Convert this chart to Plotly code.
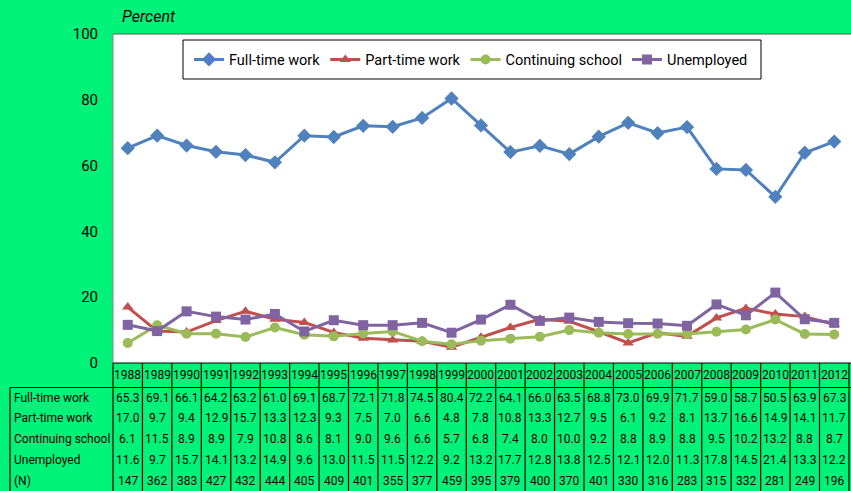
import plotly.graph_objects as go

# Survey outcomes by year (percent), with sample size
years = list(range(1988, 2013))
full_time = [65.3, 69.1, 66.1, 64.2, 63.2, 61.0, 69.1, 68.7, 72.1, 71.8, 74.5, 80.4, 72.2,
             64.1, 66.0, 63.5, 68.8, 73.0, 69.9, 71.7, 59.0, 58.7, 50.5, 63.9, 67.3]
part_time = [17.0, 9.7, 9.4, 12.9, 15.7, 13.3, 12.3, 9.3, 7.5, 7.0, 6.6, 4.8, 7.8,
             10.8, 13.3, 12.7, 9.5, 6.1, 9.2, 8.1, 13.7, 16.6, 14.9, 14.1, 11.7]
school = [6.1, 11.5, 8.9, 8.9, 7.9, 10.8, 8.6, 8.1, 9.0, 9.6, 6.6, 5.7, 6.8,
          7.4, 8.0, 10.0, 9.2, 8.8, 8.9, 8.8, 9.5, 10.2, 13.2, 8.8, 8.7]
unemployed = [11.6, 9.7, 15.7, 14.1, 13.2, 14.9, 9.6, 13.0, 11.5, 11.5, 12.2, 9.2, 13.2,
              17.7, 12.8, 13.8, 12.5, 12.1, 12.0, 11.3, 17.8, 14.5, 21.4, 13.3, 12.2]
sample_n = [147, 362, 383, 427, 432, 444, 405, 409, 401, 355, 377, 459, 395,
            379, 400, 370, 401, 330, 316, 283, 315, 332, 281, 249, 196]

series_names = ["Full-time work", "Part-time work", "Continuing school", "Unemployed"]
series_values = [full_time, part_time, school, unemployed]
series_colors = ["#4F81BD", "#C0504D", "#9BBB59", "#8064A2"]
series_symbols = ["diamond", "triangle-up", "circle", "square"]
y_ticks = [0, 20, 40, 60, 80, 100]

W, H = 851, 491
ML, MT, MB = 113, 34, 128
plot_h = H - MT - MB
FONT = "Roboto, Carlito, Calibri, sans-serif"
BG = "#00F279"


def py(pixel_y):
    """Convert a page pixel row into paper y."""
    return (H - MB - pixel_y) / plot_h


fig = go.Figure()
for name, vals, col, sym in zip(series_names, series_values, series_colors, series_symbols):
    fig.add_trace(go.Scatter(
        x=years, y=vals, name=name, mode="lines+markers",
        line=dict(color=col, width=3),
        marker=dict(symbol=sym, size=10 if sym != "diamond" else 11, color=col),
        cliponaxis=False,
    ))

shapes = []
annotations = []

# Plot frame
shapes.append(dict(type="line", xref="paper", yref="paper", x0=0, x1=1.01, y0=1, y1=1,
                   line=dict(color="#595959", width=1)))
shapes.append(dict(type="line", xref="paper", yref="paper", x0=0, x1=0, y0=0, y1=1,
                   line=dict(color="#868686", width=1)))

# Legend frame
shapes.append(dict(type="rect", xref="paper", yref="paper",
                   x0=(183 - ML) / (W - ML), x1=(761 - ML) / (W - ML),
                   y0=py(79), y1=py(40), fillcolor="white",
                   line=dict(color="black", width=1), layer="above"))

# Data table grid
table_bottom = py(H + 10)
label_left = (10 - ML) / (W - ML)
shapes.append(dict(type="line", xref="paper", yref="paper", x0=0, x1=1.01, y0=0, y1=0,
                   line=dict(color="black", width=1.2)))
shapes.append(dict(type="line", xref="paper", yref="paper", x0=label_left, x1=1.01,
                   y0=py(387.5), y1=py(387.5), line=dict(color="black", width=1.2)))
shapes.append(dict(type="line", xref="paper", yref="paper", x0=label_left, x1=label_left,
                   y0=py(387.5), y1=table_bottom, line=dict(color="black", width=1.2)))
shapes.append(dict(type="line", xref="paper", yref="paper", x0=0, x1=0,
                   y0=0, y1=table_bottom, line=dict(color="black", width=1.2)))
for yr in years:
    shapes.append(dict(type="line", xref="x", yref="paper", x0=yr + 0.5, x1=yr + 0.5,
                       y0=0, y1=table_bottom, line=dict(color="black", width=1.2)))

tfont = dict(family=FONT, size=12, color="black")
for yr in years:
    annotations.append(dict(x=yr, y=py(375), xref="x", yref="paper", text=str(yr),
                            showarrow=False, font=tfont, xanchor="center", yanchor="middle"))

row_labels = series_names + ["(N)"]
row_values = series_values + [sample_n]
row_y = [397.5, 418.3, 439.2, 460.0, 480.7]
for label, vals, ry in zip(row_labels, row_values, row_y):
    annotations.append(dict(x=(12 - ML) / (W - ML), y=py(ry), xref="paper", yref="paper",
                            text=label, showarrow=False, font=tfont,
                            xanchor="left", yanchor="middle"))
    for yr, v in zip(years, vals):
        txt = str(v) if isinstance(v, int) else f"{v:.1f}"
        annotations.append(dict(x=yr, y=py(ry), xref="x", yref="paper", text=txt,
                                showarrow=False, font=tfont,
                                xanchor="center", yanchor="middle"))

annotations.append(dict(x=(120 - ML) / (W - ML), y=py(17), xref="paper", yref="paper",
                        text="<i>Percent</i>", showarrow=False,
                        font=dict(family=FONT, size=16, color="black"),
                        xanchor="left", yanchor="middle"))

fig.update_layout(
    width=W, height=H,
    margin=dict(l=ML, r=0, t=MT, b=MB, pad=0),
    paper_bgcolor=BG, plot_bgcolor="white",
    font=dict(family=FONT, color="black"),
    showlegend=True,
    legend=dict(orientation="h", x=(189 - ML) / (W - ML), y=py(59.5),
                xanchor="left", yanchor="middle", bgcolor="rgba(0,0,0,0)",
                borderwidth=0, font=dict(family=FONT, size=14.5, color="black"),
                itemwidth=30),
    xaxis=dict(range=[1987.5, 2012.57], showgrid=False, zeroline=False,
               showticklabels=False, ticks="", showline=False, fixedrange=True),
    yaxis=dict(range=[0, 100], tickvals=y_ticks, showgrid=False, zeroline=False,
               ticks="", showline=False, ticklabelstandoff=14,
               tickfont=dict(family=FONT, size=15, color="black")),
    shapes=shapes,
    annotations=annotations,
)

fig.write_html("out.html")
